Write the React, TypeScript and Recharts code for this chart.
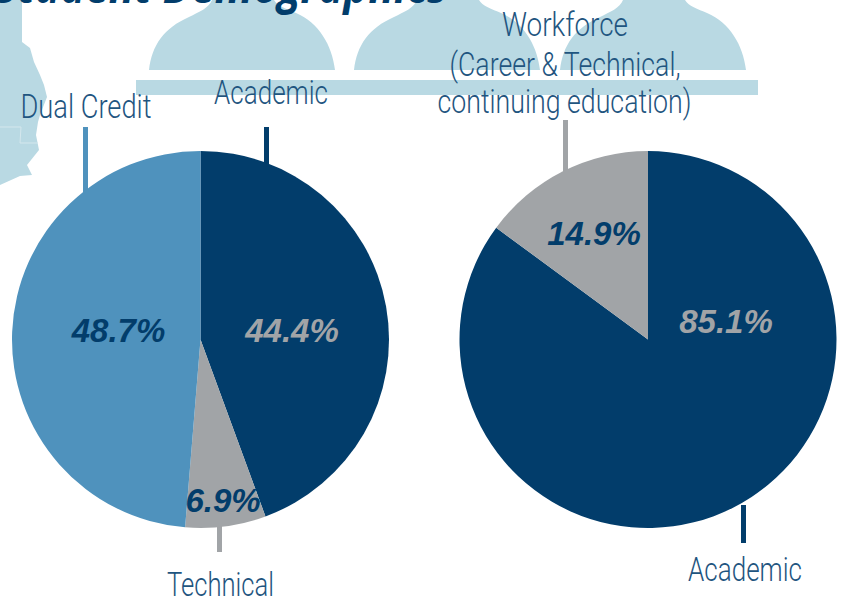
import { PieChart, Pie, Cell } from 'recharts';

const leftNames = ['Academic', 'Technical', 'Dual Credit'];
const leftValues = [44.4, 6.9, 48.7];
const leftColors = ['#023d6b', '#a1a4a7', '#4f92bd'];

const rightNames = ['Academic', 'Workforce'];
const rightValues = [85.1, 14.9];
const rightColors = ['#023d6b', '#a1a4a7'];

const leftData = leftNames.map((name, i) => ({ name, value: leftValues[i] }));
const rightData = rightNames.map((name, i) => ({ name, value: rightValues[i] }));

const PALE = '#b9d9e3';
const NAVY = '#023d6b';
const GREY = '#a1a4a7';

// where the percent labels sit, they are not centred on the slices in the original
const leftLabelPos: Record<string, { x: number; y: number; fill: string }> = {
  Academic: { x: 292, y: 342, fill: GREY },
  Technical: { x: 223, y: 512, fill: NAVY },
  'Dual Credit': { x: 118.5, y: 342, fill: NAVY },
};
const rightLabelPos: Record<string, { x: number; y: number; fill: string }> = {
  Academic: { x: 726, y: 333, fill: GREY },
  Workforce: { x: 594, y: 245, fill: NAVY },
};

const percentLabel = (pos: Record<string, { x: number; y: number; fill: string }>) => (props: any) => {
  const p = pos[props.name];
  return (
    <text
      x={p.x}
      y={p.y}
      fill={p.fill}
      textAnchor="middle"
      style={{ fontFamily: 'Liberation Sans', fontWeight: 700, fontStyle: 'italic', fontSize: 33 }}
    >
      {props.value}%
    </text>
  );
};

const captions = [
  { text: 'Dual Credit', x: 86, y: 118, w: 131 },
  { text: 'Academic', x: 271, y: 104, w: 114 },
  { text: 'Technical', x: 220.5, y: 596, w: 107 },
  { text: 'Workforce', x: 565, y: 36, w: 126 },
  { text: '(Career & Technical,', x: 565, y: 76, w: 231 },
  { text: 'continuing education)', x: 564.5, y: 113, w: 254 },
  { text: 'Academic', x: 745, y: 581, w: 114 },
];

function Person({ x }: { x: number }) {
  return (
    <path
      d={`M${x} 70 C${x + 3} 45 ${x + 15} 28 ${x + 40} 17 C${x + 50} 12 ${x + 60} 8 ${x + 63} 0 L${x + 125} 0 C${x + 128} 6 ${x + 138} 9 ${x + 147} 13 C${x + 170} 23 ${x + 183} 45 ${x + 186} 70 Z`}
      fill={PALE}
    />
  );
}

export default function App() {
  return (
    <div style={{ position: 'absolute', left: 0, top: 0, width: 845, height: 601, background: '#fff', overflow: 'hidden' }}>
      <svg width={845} height={601} style={{ position: 'absolute', left: 0, top: 0 }}>
        {/* state map and people behind the charts */}
        <path
          d="M0 0 L22 0 L22 42 L30 48 L34 62 L40 75 L44 85 L47 97 L40 115 L38 122 L36 135 L39 150 L35 155 L27 165 L32 175 L20 176 L0 185 Z"
          fill={PALE}
        />
        <path d="M0 127 L21 127 L20 143 L38 143" fill="none" stroke="#d4e7ed" strokeWidth={1} />
        <Person x={149} />
        <Person x={354} />
        <Person x={560} />
        <rect x={136} y={80} width={622} height={15} fill={PALE} />
        <text
          x={447}
          y={3}
          textAnchor="end"
          fill={NAVY}
          textLength={452}
          lengthAdjust="spacingAndGlyphs"
          style={{ fontFamily: 'Open Sans', fontWeight: 700, fontStyle: 'italic', fontSize: 50 }}
        >
          Student Demographics
        </text>
        <rect x={83} y={127} width={5} height={65} fill="#4f92bd" />
        <rect x={264} y={127} width={5} height={38} fill={NAVY} />
        <rect x={217} y={525} width={5} height={27} fill={GREY} />
        <rect x={563} y={120} width={5} height={52} fill={GREY} />
        <rect x={741} y={505} width={5} height={38} fill={NAVY} />
      </svg>

      <div style={{ position: 'absolute', left: 0, top: 0 }}>
        <PieChart width={845} height={601} margin={{ top: 0, right: 0, bottom: 0, left: 0 }}>
          <Pie
            data={leftData}
            dataKey="value"
            nameKey="name"
            cx={200.5}
            cy={339.5}
            outerRadius={188.5}
            startAngle={90}
            endAngle={-270}
            stroke="none"
            label={percentLabel(leftLabelPos)}
            labelLine={false}
            isAnimationActive={false}
          >
            {leftData.map((d, i) => (
              <Cell key={d.name} fill={leftColors[i]} />
            ))}
          </Pie>
          <Pie
            data={rightData}
            dataKey="value"
            nameKey="name"
            cx={648}
            cy={339.5}
            outerRadius={188.5}
            startAngle={90}
            endAngle={-270}
            stroke="none"
            label={percentLabel(rightLabelPos)}
            labelLine={false}
            isAnimationActive={false}
          >
            {rightData.map((d, i) => (
              <Cell key={d.name} fill={rightColors[i]} />
            ))}
          </Pie>
        </PieChart>
      </div>

      <svg width={845} height={601} style={{ position: 'absolute', left: 0, top: 0, pointerEvents: 'none' }}>
        {captions.map((c) => (
          <text
            key={c.text + c.x}
            x={c.x}
            y={c.y}
            textAnchor="middle"
            fill="#1f5580"
            textLength={c.w}
            lengthAdjust="spacingAndGlyphs"
            style={{ fontFamily: 'Roboto', fontWeight: 300, fontSize: 34 }}
          >
            {c.text}
          </text>
        ))}
      </svg>
    </div>
  );
}
